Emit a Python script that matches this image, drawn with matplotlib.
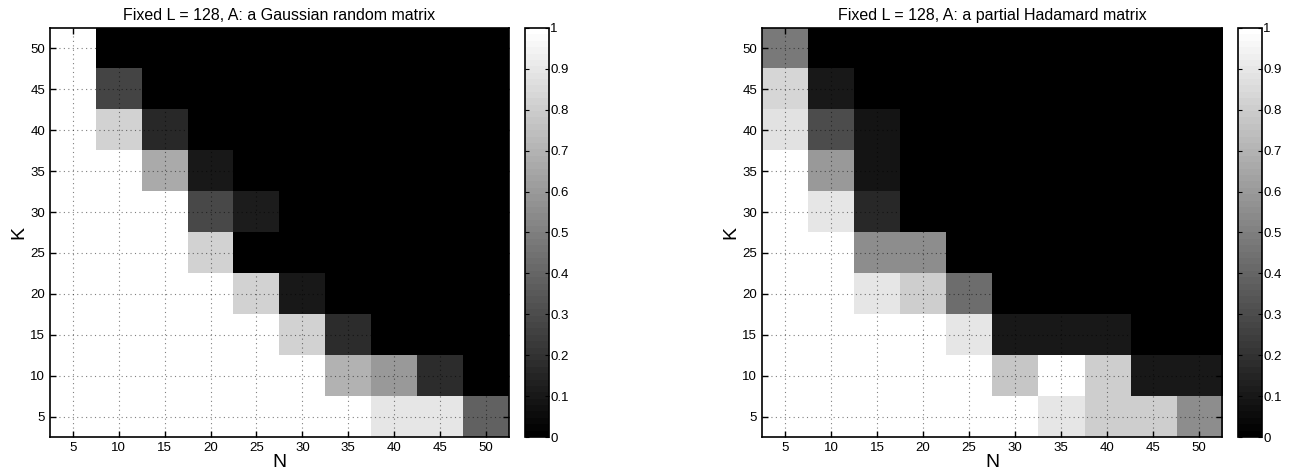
import numpy as np
import matplotlib
matplotlib.use("Agg")
import matplotlib.pyplot as plt

plt.rcParams["font.family"] = ["Liberation Sans", "DejaVu Sans"]

# === Data ===
N_values = [5, 10, 15, 20, 25, 30, 35, 40, 45, 50]
K_values = [5, 10, 15, 20, 25, 30, 35, 40, 45, 50]

# rows: K = 5..50, columns: N = 5..50
gaussian = [
    [1, 1, 1, 1, 1, 1, 1, 0.9, 0.9, 0.39],
    [1, 1, 1, 1, 1, 1, 0.69, 0.6, 0.18, 0],
    [1, 1, 1, 1, 1, 0.82, 0.18, 0, 0, 0],
    [1, 1, 1, 1, 0.82, 0.1, 0, 0, 0, 0],
    [1, 1, 1, 0.82, 0, 0, 0, 0, 0, 0],
    [1, 1, 1, 0.29, 0.11, 0, 0, 0, 0, 0],
    [1, 1, 0.66, 0.1, 0, 0, 0, 0, 0, 0],
    [1, 0.82, 0.17, 0, 0, 0, 0, 0, 0, 0],
    [1, 0.28, 0, 0, 0, 0, 0, 0, 0, 0],
    [1, 0, 0, 0, 0, 0, 0, 0, 0, 0],
]

hadamard = [
    [1, 1, 1, 1, 1, 1, 0.9, 0.8, 0.8, 0.56],
    [1, 1, 1, 1, 1, 0.78, 1, 0.8, 0.1, 0.1],
    [1, 1, 1, 1, 0.9, 0.1, 0.1, 0.1, 0, 0],
    [1, 1, 0.9, 0.8, 0.43, 0, 0, 0, 0, 0],
    [1, 1, 0.56, 0.56, 0, 0, 0, 0, 0, 0],
    [1, 0.9, 0.17, 0, 0, 0, 0, 0, 0, 0],
    [1, 0.6, 0.08, 0, 0, 0, 0, 0, 0, 0],
    [0.89, 0.31, 0.08, 0, 0, 0, 0, 0, 0, 0],
    [0.83, 0.1, 0, 0, 0, 0, 0, 0, 0, 0],
    [0.48, 0, 0, 0, 0, 0, 0, 0, 0, 0],
]

titles = ["Fixed L = 128, A: a Gaussian random matrix",
          "Fixed L = 128, A: a partial Hadamard matrix"]

# === Plot ===
fig = plt.figure(figsize=(12.96, 4.74), dpi=100)
cmap = plt.get_cmap("gray", 64)

axes_pos = [[0.0386, 0.078, 0.354, 0.863], [0.588, 0.078, 0.355, 0.863]]
cbar_pos = [[0.405, 0.078, 0.0185, 0.863], [0.955, 0.078, 0.0185, 0.863]]

step = N_values[1] - N_values[0]
extent = [N_values[0] - step / 2, N_values[-1] + step / 2,
          K_values[0] - step / 2, K_values[-1] + step / 2]

for data, title, apos, cpos in zip([gaussian, hadamard], titles, axes_pos, cbar_pos):
    ax = fig.add_axes(apos)
    im = ax.imshow(np.array(data), origin="lower", extent=extent, aspect="auto",
                   cmap=cmap, vmin=0, vmax=1, interpolation="nearest")
    ax.set_xticks(N_values)
    ax.set_yticks(K_values)
    ax.grid(True, color="black", alpha=0.5, linestyle=(0, (1, 3)), linewidth=0.8)
    ax.set_axisbelow(False)
    ax.tick_params(direction="in", top=True, right=True, labelsize=9.5,
                   length=4, width=1)
    for sp in ax.spines.values():
        sp.set_linewidth(1.2)
    ax.set_xlabel("N", fontsize=14, labelpad=0)
    ax.set_ylabel("K", fontsize=14, labelpad=2)
    ax.set_title(title, fontsize=11.5, pad=6)

    cax = fig.add_axes(cpos)
    cb = fig.colorbar(im, cax=cax, ticks=np.arange(0, 1.01, 0.1))
    cb.ax.set_yticklabels(["0", "0.1", "0.2", "0.3", "0.4", "0.5",
                           "0.6", "0.7", "0.8", "0.9", "1"])
    cb.ax.tick_params(direction="in", left=True, right=True, labelsize=9.5,
                      length=3, pad=1)
    cb.outline.set_linewidth(1.2)

fig.savefig("out.png", dpi=100)
